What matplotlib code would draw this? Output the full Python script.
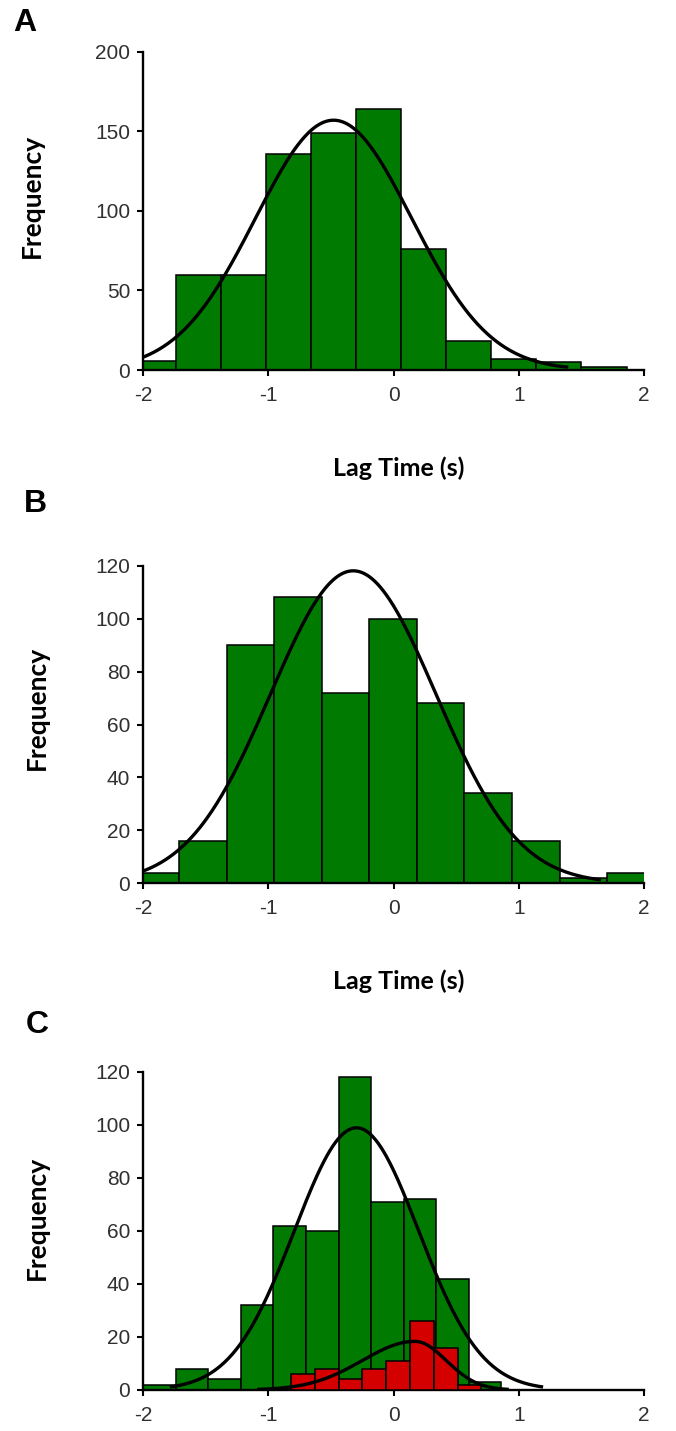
import math
import numpy as np
import matplotlib
matplotlib.use("Agg")
import matplotlib.pyplot as plt

# ---- histogram data -------------------------------------------------------
# Panel A: lag time distribution
a_edges = [-2.10, -1.74, -1.38, -1.02, -0.66, -0.30, 0.06, 0.42, 0.78, 1.14, 1.50, 1.86]
a_counts = [6, 60, 60, 136, 149, 164, 76, 18, 7, 5, 2]
a_fit = (-0.48, 0.625)          # mean, sd of the fitted normal

# Panel B
b_edges = [-2.095, -1.715, -1.335, -0.955, -0.575, -0.195, 0.185, 0.565, 0.945, 1.325, 1.705, 2.085]
b_counts = [4, 16, 90, 108, 72, 100, 68, 34, 16, 2, 4]
b_fit = (-0.323, 0.66)

# Panel C: all events (green) and subset (red)
c_edges = [-2.00, -1.74, -1.48, -1.22, -0.96, -0.70, -0.44, -0.18, 0.08, 0.34, 0.60, 0.86]
c_counts = [2, 8, 4, 32, 62, 60, 118, 71, 72, 42, 3]
c_fit = (-0.297, 0.497)

r_edges = [-0.82, -0.63, -0.44, -0.25, -0.06, 0.13, 0.32, 0.51, 0.70]
r_counts = [6, 8, 4, 8, 11, 26, 16, 2]
r_fit = (0.17, 0.42, 0.25)      # mode, left sd, right sd (split normal)

x_ticks = [-2, -1, 0, 1, 2]

GREEN = "#007a00"
RED = "#d40000"
TICK_COLOR = "#303030"

plt.rcParams["font.family"] = ["Liberation Sans", "DejaVu Sans"]

fig = plt.figure(figsize=(6.76, 14.31), dpi=100)


def style_axes(ax, ymax, ystep):
    ax.set_xlim(-2, 2)
    ax.set_ylim(0, ymax)
    ax.set_xticks(x_ticks)
    ax.set_xticklabels([str(t) for t in x_ticks])
    ax.set_yticks(np.arange(0, ymax + 1, ystep))
    for side in ("top", "right"):
        ax.spines[side].set_visible(False)
    for side in ("left", "bottom"):
        ax.spines[side].set_linewidth(1.7)
        ax.spines[side].set_color("black")
    ax.tick_params(axis="both", direction="out", length=4.5, width=1.5,
                   labelsize=15, labelcolor=TICK_COLOR, color="black")
    ax.tick_params(axis="y", pad=5)
    ax.tick_params(axis="x", pad=7)
    ax.patch.set_visible(False)


def draw_hist(ax, edges, counts, color, z=2):
    edges = np.asarray(edges)
    ax.bar(edges[:-1], counts, width=np.diff(edges), align="edge",
           color=color, edgecolor="black", linewidth=1.1, zorder=z)


def draw_normal(ax, edges, counts, mu, sd, z=5):
    width = float(np.mean(np.diff(edges)))
    area = sum(counts) * width
    x = np.linspace(mu - 3 * sd, mu + 3 * sd, 400)
    y = area / (sd * math.sqrt(2 * math.pi)) * np.exp(-0.5 * ((x - mu) / sd) ** 2)
    ax.plot(x, y, color="black", linewidth=2.4, zorder=z, solid_capstyle="butt")


def draw_split_normal(ax, edges, counts, mode, sd_left, sd_right, z=5):
    width = float(np.mean(np.diff(edges)))
    area = sum(counts) * width
    peak = area / (math.sqrt(2 * math.pi) * (sd_left + sd_right) / 2)
    x = np.linspace(mode - 3 * sd_left, mode + 3 * sd_right, 400)
    sd = np.where(x < mode, sd_left, sd_right)
    y = peak * np.exp(-0.5 * ((x - mode) / sd) ** 2)
    ax.plot(x, y, color="black", linewidth=2.4, zorder=z, solid_capstyle="butt")


xlabel_font = dict(family=["Lato", "DejaVu Sans"], fontweight="bold", fontsize=18)
ylabel_font = dict(family=["Lato", "DejaVu Sans"], fontweight="bold", fontsize=19)
letter_font = dict(family=["Liberation Sans", "DejaVu Sans"], fontweight="bold", fontsize=23)

# ---- panel A ----
axA = fig.add_axes([0.212, 0.7414, 0.7407, 0.2225])
draw_hist(axA, a_edges, a_counts, GREEN)
draw_normal(axA, a_edges, a_counts, *a_fit)
style_axes(axA, 200, 50)

# ---- panel B ----
axB = fig.add_axes([0.212, 0.3827, 0.7407, 0.2220])
draw_hist(axB, b_edges, b_counts, GREEN)
draw_normal(axB, b_edges, b_counts, *b_fit)
style_axes(axB, 120, 20)

# ---- panel C ----
axC = fig.add_axes([0.212, 0.0287, 0.7407, 0.2222])
draw_hist(axC, c_edges, c_counts, GREEN, z=2)
draw_hist(axC, r_edges, r_counts, RED, z=3)
draw_normal(axC, c_edges, c_counts, *c_fit)
draw_split_normal(axC, r_edges, r_counts, *r_fit)
style_axes(axC, 120, 20)

# ---- axis titles and panel letters ----
fig.text(0.590, 0.673, "Lag Time (s)", ha="center", va="center", **xlabel_font)
fig.text(0.590, 0.3145, "Lag Time (s)", ha="center", va="center", **xlabel_font)

fig.text(0.047, 0.863, "Frequency", rotation=90, ha="center", va="center", **ylabel_font)
fig.text(0.055, 0.5052, "Frequency", rotation=90, ha="center", va="center", **ylabel_font)
fig.text(0.055, 0.1488, "Frequency", rotation=90, ha="center", va="center", **ylabel_font)

fig.text(0.037, 0.984, "A", ha="center", va="center", **letter_font)
fig.text(0.052, 0.648, "B", ha="center", va="center", **letter_font)
fig.text(0.055, 0.2837, "C", ha="center", va="center", **letter_font)

fig.savefig("out.png", dpi=100)
